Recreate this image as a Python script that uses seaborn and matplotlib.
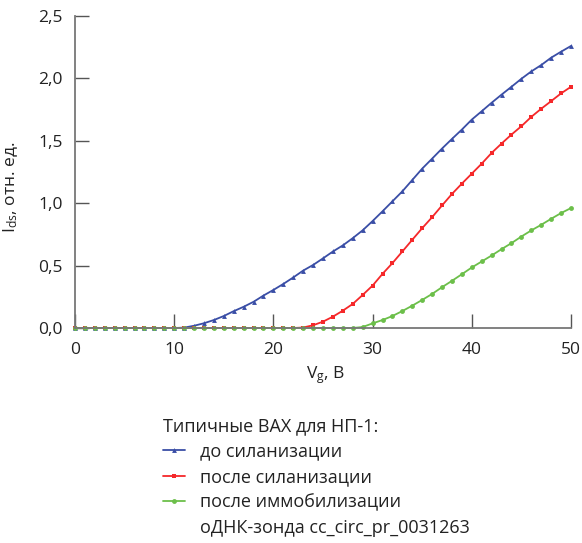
import matplotlib
matplotlib.use('Agg')
import matplotlib.pyplot as plt
import pandas as pd
import seaborn as sns
from matplotlib.lines import Line2D

# Gate voltage, V (one point per volt)
vg = list(range(0, 51))

# Drain current, rel. units
before_sil = [0.0] * 11 + [
    0.003, 0.018, 0.038, 0.064, 0.096, 0.135, 0.170, 0.210, 0.260, 0.305,
    0.353, 0.405, 0.460, 0.505, 0.558, 0.613, 0.662, 0.720, 0.783, 0.857,
    0.935, 1.015, 1.095, 1.186, 1.277, 1.357, 1.438, 1.515, 1.590, 1.670,
    1.737, 1.805, 1.870, 1.933, 1.997, 2.056, 2.107, 2.166, 2.214, 2.260,
]
after_sil = [0.0] * 23 + [
    0.004, 0.022, 0.051, 0.091, 0.139, 0.193, 0.265, 0.340,
    0.434, 0.520, 0.613, 0.707, 0.800, 0.888, 0.982, 1.074, 1.157, 1.237,
    1.317, 1.403, 1.478, 1.550, 1.617, 1.692, 1.757, 1.818, 1.880, 1.933,
]
after_imm = [0.0] * 29 + [
    0.008, 0.037,
    0.064, 0.096, 0.136, 0.179, 0.225, 0.273, 0.327, 0.378, 0.431, 0.485,
    0.533, 0.581, 0.632, 0.680, 0.733, 0.782, 0.827, 0.875, 0.921, 0.961,
]

labels = ['до силанизации', 'после силанизации', 'после иммобилизации']
colors = ['#3a4ea6', '#f5282a', '#6cbf4a']
markers = ['^', 's', 'o']
x_ticks = [0, 10, 20, 30, 40, 50]
y_ticks = [0.0, 0.5, 1.0, 1.5, 2.0, 2.5]
y_tick_labels = ['0,0', '0,5', '1,0', '1,5', '2,0', '2,5']

sns.set_style('ticks')
plt.rcParams['font.family'] = ['Open Sans', 'DejaVu Sans']
plt.rcParams['mathtext.fontset'] = 'custom'
plt.rcParams['mathtext.rm'] = 'Open Sans'
plt.rcParams['mathtext.it'] = 'Open Sans'

txt = '#222222'
fs = 12.5

fig = plt.figure(figsize=(5.82, 5.43), dpi=100)
ax = fig.add_axes([75 / 582, 1 - 328 / 543, 496 / 582, 312 / 543])

for ys, lab, c, m in zip([before_sil, after_sil, after_imm], labels, colors, markers):
    df = pd.DataFrame({'Vg': vg, 'Ids': ys})
    sns.lineplot(data=df, x='Vg', y='Ids', ax=ax, color=c, marker=m,
                 markersize=3.5, markeredgewidth=0, linewidth=1.3,
                 label=lab, clip_on=False, legend=False)

ax.set_xlim(0, 50)
ax.set_ylim(0, 2.5)
ax.set_xticks(x_ticks)
ax.set_yticks(y_ticks)
ax.set_yticklabels(y_tick_labels)
ax.tick_params(direction='in', length=10, width=1, color='#555555',
               labelsize=fs, labelcolor=txt)
ax.tick_params(axis='x', pad=10)
ax.tick_params(axis='y', pad=9)
for side in ['left', 'bottom']:
    ax.spines[side].set_color('#777777')
    ax.spines[side].set_linewidth(1.3)
sns.despine(ax=ax)

ax.set_xlabel(r'$\mathregular{V_g}$, В', fontsize=fs, color=txt)
ax.set_ylabel(r'$\mathregular{I_{ds}}$, отн. ед.', fontsize=fs, color=txt)
ax.xaxis.set_label_coords(0.505, -0.115)
ax.yaxis.set_label_coords(-0.11, 0.45)

# legend below the plot, last entry continues on a second line
handles = [Line2D([], [], color=c, marker=m, markersize=3.5, markeredgewidth=0, linewidth=1.3)
           for c, m in zip(colors, markers)]
handles.append(Line2D([], [], color='none'))
leg_labels = labels + ['оДНК-зонда cc_circ_pr_0031263']
leg = fig.legend(handles, leg_labels, title='Типичные ВАХ для НП-1:',
                 loc='upper left', bbox_to_anchor=(163 / 582, 1 - 417 / 543),
                 frameon=False, fontsize=13, title_fontsize=13,
                 handlelength=1.2, handletextpad=0.85, labelspacing=0.42,
                 borderaxespad=0, borderpad=0, alignment='left')
for t in leg.get_texts():
    t.set_color(txt)
leg.get_title().set_color(txt)

fig.savefig('out.png', dpi=100)
